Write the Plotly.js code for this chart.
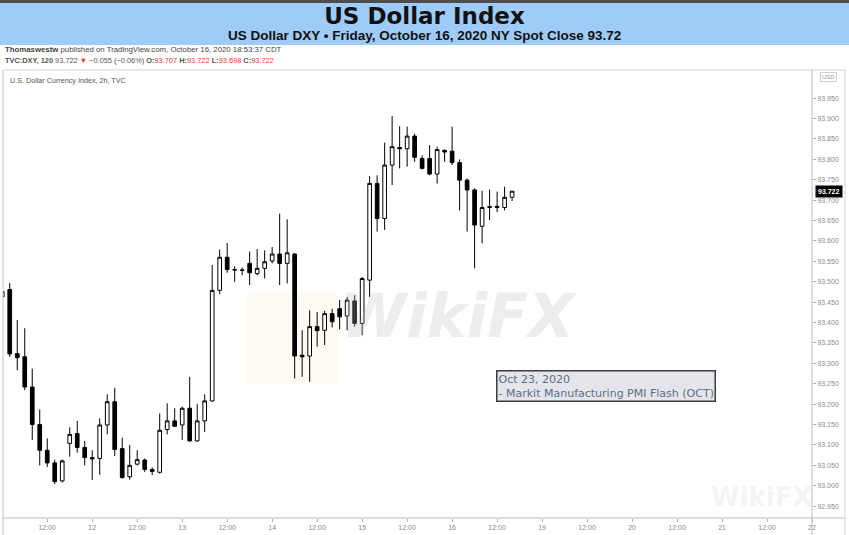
<!DOCTYPE html>
<html><head><meta charset="utf-8">
<script src="https://cdn.plot.ly/plotly-3.0.1.min.js"></script>
<style>html,body{margin:0;padding:0;background:#fff;overflow:hidden}</style>
</head><body><div id="chart" style="width:849px;height:535px"></div>
<script>
// ---- data (2h bars, TVC:DXY, Oct 9 - Oct 16, 2020) ----
const openP  = [93.463,93.481,93.324,93.316,93.242,93.150,93.087,93.056,93.012,93.104,93.128,93.094,93.069,93.067,93.149,93.206,93.091,93.022,93.053,93.063,93.040,93.033,93.138,93.159,93.149,93.190,93.110,93.159,93.208,93.479,93.560,93.530,93.529,93.545,93.520,93.533,93.551,93.568,93.545,93.568,93.320,93.318,93.390,93.381,93.422,93.434,93.416,93.453,93.398,93.504,93.741,93.655,93.786,93.829,93.826,93.857,93.802,93.802,93.764,93.822,93.820,93.792,93.749,93.725,93.636,93.682,93.685,93.682,93.707];
const highP  = [93.485,93.497,93.406,93.386,93.287,93.187,93.116,93.064,93.064,93.143,93.159,93.110,93.087,93.165,93.224,93.240,93.118,93.100,93.087,93.067,93.045,93.177,93.202,93.190,93.194,93.267,93.200,93.224,93.541,93.579,93.595,93.538,93.535,93.574,93.580,93.577,93.585,93.667,93.653,93.570,93.381,93.430,93.426,93.429,93.434,93.455,93.463,93.467,93.512,93.759,93.761,93.841,93.906,93.881,93.880,93.863,93.810,93.835,93.831,93.824,93.880,93.800,93.753,93.729,93.723,93.726,93.721,93.733,93.722];
const lowP   = [93.452,93.316,93.283,93.234,93.112,93.050,93.046,93.004,93.008,93.071,93.081,93.050,93.014,93.027,93.126,93.073,93.018,93.015,93.050,93.034,93.026,93.030,93.126,93.145,93.112,93.108,93.108,93.132,93.206,93.470,93.522,93.500,93.516,93.492,93.516,93.508,93.545,93.492,93.496,93.263,93.267,93.255,93.341,93.345,93.388,93.383,93.381,93.390,93.369,93.463,93.623,93.627,93.737,93.778,93.782,93.794,93.775,93.761,93.741,93.794,93.786,93.675,93.623,93.533,93.594,93.651,93.671,93.675,93.698];
const closeP = [93.476,93.323,93.314,93.242,93.150,93.087,93.056,93.010,93.061,93.126,93.094,93.069,93.066,93.149,93.206,93.089,93.020,93.050,93.064,93.040,93.035,93.136,93.159,93.146,93.190,93.110,93.159,93.208,93.479,93.560,93.530,93.529,93.528,93.522,93.533,93.549,93.568,93.545,93.571,93.318,93.316,93.390,93.380,93.422,93.402,93.414,93.455,93.398,93.508,93.741,93.655,93.786,93.831,93.826,93.857,93.805,93.778,93.764,93.824,93.818,93.792,93.749,93.725,93.639,93.682,93.684,93.682,93.707,93.722];
// time-axis labels (bar positions, 12 bars of 2h per trading day)
const xTickVals = [6,12,18,24,30,36,42,48,54,60,66,72,78,84,90,96,102,108];
const xTickText = ['12:00','12','12:00','13','12:00','14','12:00','15','12:00','16','12:00','19','12:00','20','12:00','21','12:00','22'];
const yTickVals = [92.95,93.00,93.05,93.10,93.15,93.20,93.25,93.30,93.35,93.40,93.45,93.50,93.55,93.60,93.65,93.70,93.75,93.80,93.85,93.90,93.95];
const lastPrice = 93.722;
const titleText = 'US Dollar Index';
const subtitleText = 'US Dollar DXY \u2022 Friday, October 16, 2020 NY Spot Close 93.72';
const eventText = 'Oct 23, 2020<br>- Markit Manufacturing PMI Flash (OCT)';

// ---- layout helpers (pixel -> paper) ----
const W = 849, H = 535, ML = 3, MR = 37, MT = 70, MB = 17;
const PW = W - ML - MR, PH = H - MT - MB;
const px = x => (x - ML) / PW;
const py = y => (H - MB - y) / PH;

const barIndex = openP.map((_, i) => i);
const red = '#e53935';

const trace = {
  type: 'candlestick',
  x: barIndex, open: openP, high: highP, low: lowP, close: closeP,
  increasing: {line: {color: '#000', width: 1}, fillcolor: '#ffffff'},
  decreasing: {line: {color: '#000', width: 1}, fillcolor: '#000000'},
  whiskerwidth: 0,
  hoverinfo: 'none',
  showlegend: false
};

const lineShape = (x0, y0, x1, y1, color) => ({type: 'line', xref: 'paper', yref: 'paper',
  x0: px(x0), y0: py(y0), x1: px(x1), y1: py(y1), line: {color: color, width: 1}});

const layout = {
  width: W, height: H,
  margin: {l: ML, r: MR, t: MT, b: MB, pad: 0},
  paper_bgcolor: '#ffffff', plot_bgcolor: '#ffffff',
  font: {family: 'Liberation Sans, Arial, sans-serif', color: '#333'},
  title: {text: '<b>' + titleText + '</b>', x: 0.5, xanchor: 'center', xref: 'container',
          y: 1 - 15.5 / H, yref: 'container', yanchor: 'middle',
          font: {family: 'DejaVu Sans, Verdana, sans-serif', size: 23, color: '#111'}},
  xaxis: {range: [0.1, 108.0], tickvals: xTickVals, ticktext: xTickText,
          ticks: 'outside', ticklen: 3, tickcolor: '#b0b0b0', tickwidth: 1,
          tickfont: {size: 7, color: '#8a8a8a'}, showgrid: false, zeroline: false,
          showline: false, rangeslider: {visible: false}, fixedrange: true},
  yaxis: {side: 'right', range: [92.921, 94.019], tickvals: yTickVals, tickformat: '.3f',
          ticks: 'outside', ticklen: 3, tickcolor: '#b0b0b0', tickwidth: 1,
          tickfont: {size: 7, color: '#8a8a8a'}, showgrid: false, zeroline: false,
          showline: false, fixedrange: true},
  shapes: [
    {type: 'rect', xref: 'paper', yref: 'paper', x0: px(0), x1: px(849), y0: py(0), y1: py(3),
     fillcolor: '#4d4d4d', line: {width: 0}, layer: 'below'},
    {type: 'rect', xref: 'paper', yref: 'paper', x0: px(0), x1: px(849), y0: py(3), y1: py(45),
     fillcolor: '#9ecbf7', line: {width: 0}, layer: 'below'},
    {type: 'rect', xref: 'paper', yref: 'paper', x0: px(246), x1: px(338), y0: py(292), y1: py(384),
     fillcolor: 'rgba(255,228,160,0.14)', line: {width: 0}, layer: 'below'},
    lineShape(3, 70, 846, 70, '#d4d4d4'),
    lineShape(3, 70, 3, 535, '#c4c4c4'),
    lineShape(812, 70, 812, 535, '#bdbdbd'),
    lineShape(845, 70, 845, 535, '#d4d4d4'),
    lineShape(3, 518, 845, 518, '#bdbdbd')
  ],
  annotations: [
    {text: '<b>' + subtitleText + '</b>', xref: 'paper', yref: 'paper', x: px(424.5), y: py(36),
     xanchor: 'center', yanchor: 'middle', showarrow: false,
     font: {family: 'Liberation Sans, Arial, sans-serif', size: 13.5, color: '#111'}},
    {text: '<b>Thomaswestw</b> published on TradingView.com, October 16, 2020 18:53:37 CDT',
     xref: 'paper', yref: 'paper', x: px(3), y: py(49.5), xanchor: 'left', yanchor: 'middle',
     showarrow: false, font: {size: 7.8, color: '#444'}},
    {text: '<b>TVC:DXY, 120</b> 93.722 <span style="color:' + red + '">\u25BC</span> \u22120.055 (\u22120.06%) ' +
           '<b>O:</b><span style="color:' + red + '">93.707</span> <b>H:</b><span style="color:' + red + '">93.722</span> ' +
           '<b>L:</b><span style="color:' + red + '">93.698</span> <b>C:</b><span style="color:' + red + '">93.722</span>',
     xref: 'paper', yref: 'paper', x: px(3), y: py(61), xanchor: 'left', yanchor: 'middle',
     showarrow: false, font: {size: 7.4, color: '#555'}},
    {text: 'U.S. Dollar Currency Index, 2h, TVC', xref: 'paper', yref: 'paper', x: px(8), y: py(81),
     xanchor: 'left', yanchor: 'middle', showarrow: false, font: {size: 7.2, color: '#555'}},
    {text: '<i>WikiFX</i>', xref: 'paper', yref: 'paper', x: px(458), y: py(316), xanchor: 'center', yanchor: 'middle',
     showarrow: false, font: {family: 'DejaVu Sans, sans-serif', size: 60, color: 'rgba(195,185,185,0.28)', weight: 'bold'}},
    {text: 'WikiFX', xref: 'paper', yref: 'paper', x: px(762), y: py(497), xanchor: 'center', yanchor: 'middle',
     showarrow: false, font: {family: 'DejaVu Sans, sans-serif', size: 26, color: 'rgba(200,200,200,0.2)', weight: 'bold'}},
    {text: eventText, xref: 'paper', yref: 'paper', x: px(496), y: py(370), xanchor: 'left', yanchor: 'top',
     align: 'left', showarrow: false, bgcolor: '#e3e5ea', bordercolor: '#3c3c3c', borderwidth: 1.5, borderpad: 1,
     font: {family: 'DejaVu Sans, Verdana, sans-serif', size: 11, color: '#5a6f86'}},
    {text: 'USD', xref: 'paper', yref: 'paper', x: px(829), y: py(77), xanchor: 'center', yanchor: 'middle',
     showarrow: false, bgcolor: '#ffffff', bordercolor: '#cfcfcf', borderwidth: 1, borderpad: 1,
     font: {size: 6, color: '#999'}},
    {text: '<b>' + lastPrice.toFixed(3) + '</b>', xref: 'paper', yref: 'y', x: px(829), y: lastPrice,
     xanchor: 'center', yanchor: 'middle', showarrow: false, bgcolor: '#000000', borderpad: 2,
     font: {size: 7, color: '#ffffff'}}
  ]
};

Plotly.newPlot('chart', [trace], layout, {displayModeBar: false, staticPlot: true});
</script>
</body></html>
